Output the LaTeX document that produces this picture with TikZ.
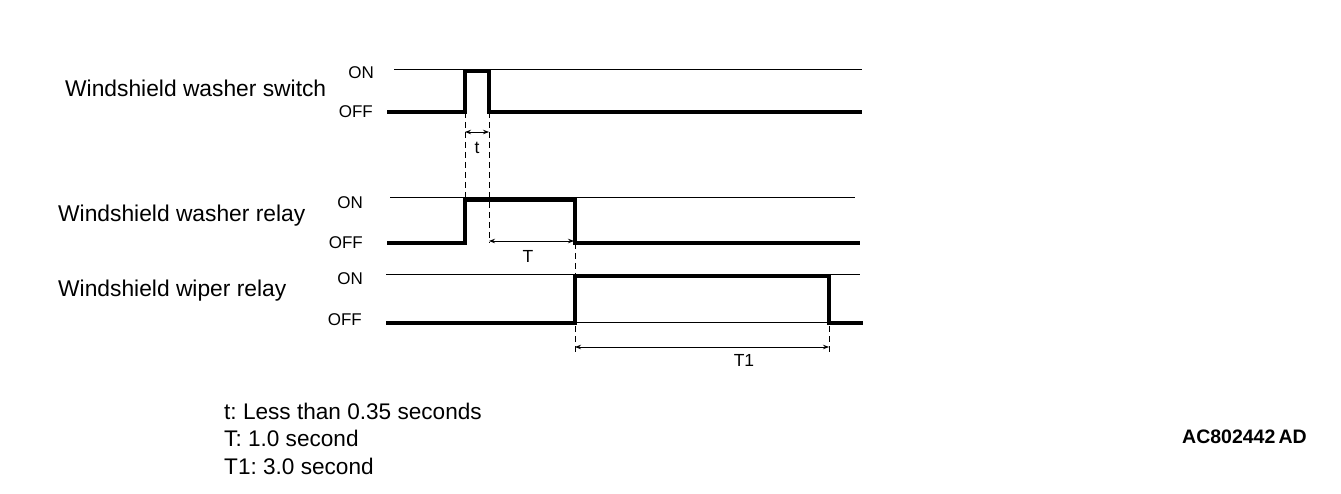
\documentclass[tikz,border=0pt]{standalone}
\usepackage{fontspec}
\setmainfont{Liberation Sans}
\usetikzlibrary{arrows.meta}
\frenchspacing
\begin{document}
\begin{tikzpicture}[x=1pt,y=-1pt,
  sig/.style={line width=3.6pt, line join=miter},
  lvl/.style={line width=1pt},
  guide/.style={dash pattern=on 6pt off 4pt, line width=1pt},
  dimline/.style={{Stealth[length=6pt,width=4.5pt]}-{Stealth[length=6pt,width=4.5pt]}, line width=0.9pt},
  rowlabel/.style={anchor=west, inner sep=0pt, font=\fontsize{22.8}{26}\selectfont},
  lvllabel/.style={anchor=east, inner sep=0pt, font=\fontsize{17}{20}\selectfont},
  dimlabel/.style={inner sep=0pt, font=\fontsize{17.5}{20}\selectfont},
  legend/.style={anchor=west, inner sep=0pt, font=\fontsize{22.6}{26}\selectfont}]
\useasboundingbox[fill=white] (0,0) rectangle (1341,494);

% row labels
\node[rowlabel] (l1) at (65,88) {Windshield washer switch};
\node[rowlabel] (l2) at (58,216) {Windshield washer relay};
\node[rowlabel] (l3) at (58,291) {Windshield wiper relay};

% level labels
\node[lvllabel] (on1) at (374,73) {ON};
\node[lvllabel] (off1) at (373,112) {OFF};
\node[lvllabel] (on2) at (363,203) {ON};
\node[lvllabel] (off2) at (363,243) {OFF};
\node[lvllabel] (on3) at (363,279) {ON};
\node[lvllabel] (off3) at (362,320) {OFF};

% coordinates
\coordinate (a1) at (465,112);
\coordinate (a2) at (465,200);
\coordinate (b1) at (489,112);
\coordinate (b2) at (489,243);
\coordinate (c1) at (575,243);
\coordinate (c2) at (575,276);
\coordinate (c3) at (575,326);
\coordinate (c4) at (575,353);
\coordinate (d3) at (829,326);
\coordinate (d4) at (829,353);

% row 1
\draw[lvl] (394,70) -- (862,70);
\draw[sig] (387,112) -- (465,112) -- (465,71) -- (489,71) -- (489,112) -- (862,112);

% row 2
\draw[lvl] (390,198) -- (855,198);
\draw[sig] (387,243) -- (465,243) -- (465,200) -- (575,200) -- (575,243) -- (860,243);

% row 3
\draw[lvl] (386,275) -- (860,275);
\draw[lvl] (575,322) -- (829,322);
\draw[sig] (386,323) -- (575,323) -- (575,276) -- (829,276) -- (829,323) -- (863,323);

% guides
\draw[guide] (a1) -- (a2);
\draw[guide] (b1) -- (b2);
\draw[guide] (c1) -- (c2);
\draw[guide] (c3) -- (c4);
\draw[guide] (d3) -- (d4);

% dimensions
\coordinate (t1) at (465,132);
\coordinate (t2) at (489,132);
\coordinate (T1a) at (489,241);
\coordinate (T1b) at (574,241);
\coordinate (U1) at (575,347);
\coordinate (U2) at (829,347);
\draw[dimline] (t1) -- (t2);
\draw[dimline] (T1a) -- (T1b);
\draw[dimline] (U1) -- (U2);
\node[dimlabel] (tl) at (477,148) {t};
\node[dimlabel] (Tl) at (528,256) {T};
\node[dimlabel] (T1l) at (744,360) {T1};

% legend
\node[legend] (g1) at (224,411) {t: Less than 0.35 seconds};
\node[legend] (g2) at (224,438) {T: 1.0 second};
\node[legend] (g3) at (224,466) {T1: 3.0 second};

\node[anchor=west, inner sep=0pt, font=\bfseries\fontsize{19.5}{22}\selectfont] (id) at (1182,437) {AC802442\,AD};
\end{tikzpicture}
\end{document}
